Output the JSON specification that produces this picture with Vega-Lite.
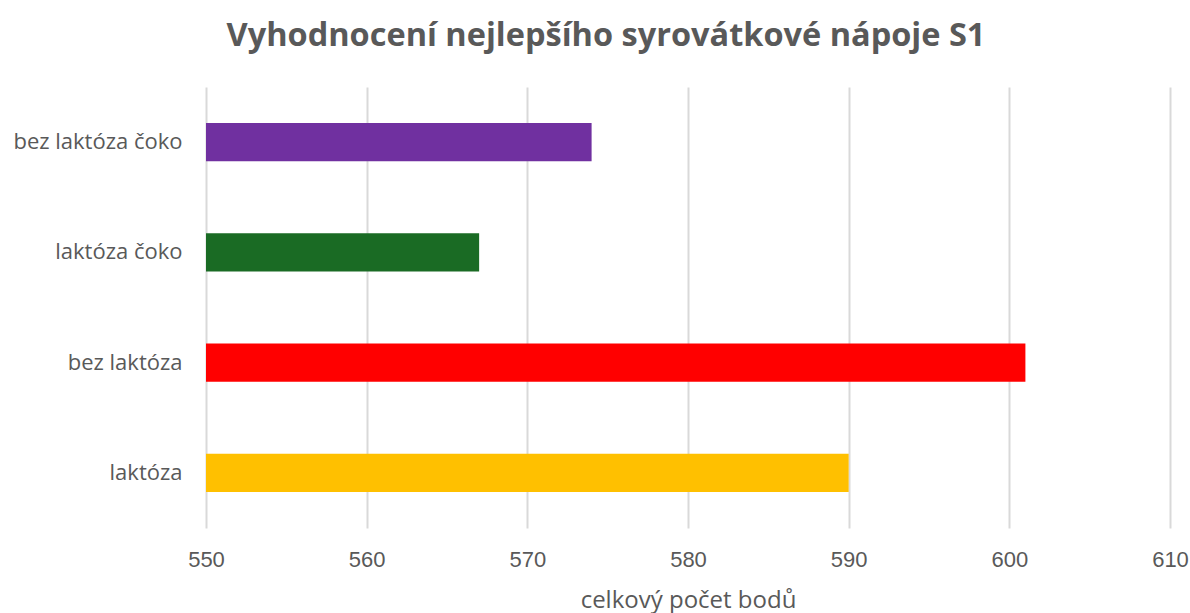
{
  "$schema": "https://vega.github.io/schema/vega-lite/v6.json",
  "autosize": {"type": "none"},
  "padding": {"left": 206, "top": 87, "right": 20, "bottom": 85},
  "width": 964,
  "height": 441,
  "background": "white",
  "title": {
    "text": "Vyhodnocení nejlepšího syrovátkové nápoje S1",
    "font": "Open Sans",
    "fontSize": 32.5,
    "fontWeight": "bold",
    "color": "#595959",
    "anchor": "middle",
    "dx": -82,
    "offset": 35
  },
  "data": {
    "values": [
      {"napoj": "bez laktóza čoko", "body": 574},
      {"napoj": "laktóza čoko", "body": 567},
      {"napoj": "bez laktóza", "body": 601},
      {"napoj": "laktóza", "body": 590}
    ]
  },
  "mark": {"type": "bar"},
  "encoding": {
    "y": {
      "field": "napoj",
      "type": "nominal",
      "sort": null,
      "scale": {"paddingInner": 0.655, "paddingOuter": 0.3275},
      "axis": {
        "title": null,
        "domain": false,
        "ticks": false,
        "labelPadding": 24,
        "labelFont": "Open Sans",
        "labelFontSize": 22,
        "labelFontWeight": 500,
        "labelColor": "#595959"
      }
    },
    "x": {
      "field": "body",
      "type": "quantitative",
      "scale": {"domain": [550, 610], "zero": false, "nice": false},
      "axis": {
        "title": "celkový počet bodů",
        "values": [550, 560, 570, 580, 590, 600, 610],
        "domain": false,
        "ticks": false,
        "grid": true,
        "gridColor": "#d9d9d9",
        "gridWidth": 2,
        "labelFlush": false,
        "labelPadding": 21,
        "labelFont": "Liberation Sans",
        "labelFontSize": 22,
        "labelColor": "#595959",
        "titleFont": "Open Sans",
        "titleFontSize": 24,
        "titleFontWeight": "normal",
        "titleColor": "#595959",
        "titlePadding": 18
      }
    },
    "x2": {"datum": 550},
    "color": {
      "field": "napoj",
      "type": "nominal",
      "scale": {
        "domain": ["bez laktóza čoko", "laktóza čoko", "bez laktóza", "laktóza"],
        "range": ["#7030A0", "#1A6B24", "#FF0000", "#FFC000"]
      },
      "legend": null
    }
  },
  "config": {"view": {"stroke": null}}
}
